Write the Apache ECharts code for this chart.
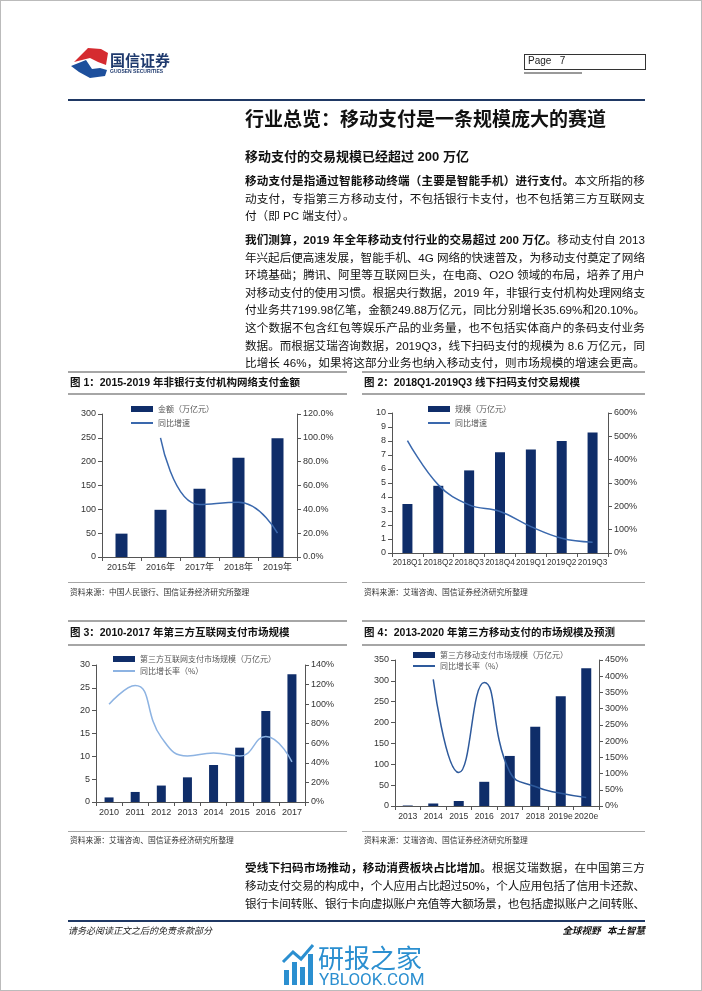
<!DOCTYPE html>
<html><head><meta charset="utf-8">
<script src="https://cdn.jsdelivr.net/npm/echarts@6/dist/echarts.min.js"></script>
<style>
html,body{margin:0;padding:0;background:#fff;}
#page{position:relative;width:702px;height:991px;overflow:hidden;background:#fff;}
#chart{position:absolute;left:0;top:0;width:702px;height:991px;}
.t{position:absolute;white-space:nowrap;color:#111;font-family:'Liberation Sans','Noto Sans CJK SC',sans-serif;line-height:1;z-index:2;}
.pl{position:absolute;left:245px;white-space:nowrap;font-size:11.6px;line-height:14px;color:#111;font-family:'Liberation Sans','Noto Sans CJK SC',sans-serif;z-index:2;}
.b{font-weight:bold;}
.hl{position:absolute;z-index:2;}
</style></head>
<body><div id="page">
<div id="chart"></div>
<div id="txt"></div>
</div>
<script>
// ---------- data ----------
const cat1 = ['2015年','2016年','2017年','2018年','2019年'];
const amt1 = [49, 99, 143, 208, 249];
const yoy1 = [null, 100, 44, 46, 20];

const cat2 = ['2018Q1','2018Q2','2018Q3','2018Q4','2019Q1','2019Q2','2019Q3'];
const amt2 = [3.5, 4.8, 5.9, 7.2, 7.4, 8.0, 8.6];
const yoy2 = [482, 292, 206, 178, 113, 63, 46];

const cat3 = ['2010','2011','2012','2013','2014','2015','2016','2017'];
const amt3 = [1.0, 2.2, 3.6, 5.4, 8.1, 11.9, 19.9, 28.0];
const yoy3 = [100, 119, 66, 47, 50, 47, 67, 41];

const cat4 = ['2013','2014','2015','2016','2017','2018','2019e','2020e'];
const amt4 = [1.2, 6, 12, 58, 120, 190, 263, 330];
const yoy4 = [null, 390, 103, 381, 105, 60, 39, 26];

// ---------- page text ----------
const headTitle = '行业总览：移动支付是一条规模庞大的赛道';
const subTitle = '移动支付的交易规模已经超过 200 万亿';
const para1 = [
  ['移动支付是指通过智能移动终端（主要是智能手机）进行支付。', '本文所指的移'],
  ['', '动支付，专指第三方移动支付，不包括银行卡支付，也不包括第三方互联网支'],
  ['', '付（即 PC 端支付）。']
];
const para2 = [
  ['我们测算，2019 年全年移动支付行业的交易超过 200 万亿。', '移动支付自 2013'],
  ['', '年兴起后便高速发展，智能手机、4G 网络的快速普及，为移动支付奠定了网络'],
  ['', '环境基础；腾讯、阿里等互联网巨头，在电商、O2O 领域的布局，培养了用户'],
  ['', '对移动支付的使用习惯。根据央行数据，2019 年，非银行支付机构处理网络支'],
  ['', '付业务共7199.98亿笔，金额249.88万亿元，同比分别增长35.69%和20.10%。'],
  ['', '这个数据不包含红包等娱乐产品的业务量，也不包括实体商户的条码支付业务'],
  ['', '数据。而根据艾瑞咨询数据，2019Q3，线下扫码支付的规模为 8.6 万亿元，同'],
  ['', '比增长 46%，如果将这部分业务也纳入移动支付，则市场规模的增速会更高。']
];
const para3 = [
  ['受线下扫码市场推动，移动消费板块占比增加。', '根据艾瑞数据，在中国第三方'],
  ['', '移动支付交易的构成中，个人应用占比超过50%，个人应用包括了信用卡还款、'],
  ['', '银行卡间转账、银行卡向虚拟账户充值等大额场景，也包括虚拟账户之间转账、']
];
const figTitles = ['图 1：2015-2019 年非银行支付机构网络支付金额','图 2：2018Q1-2019Q3 线下扫码支付交易规模','图 3：2010-2017 年第三方互联网支付市场规模','图 4：2013-2020 年第三方移动支付的市场规模及预测'];
const sources = ['资料来源：中国人民银行、国信证券经济研究所整理','资料来源：艾瑞咨询、国信证券经济研究所整理','资料来源：艾瑞咨询、国信证券经济研究所整理','资料来源：艾瑞咨询、国信证券经济研究所整理'];

const txt = document.getElementById('txt');
function add(html, cls, style){const d=document.createElement('div');d.className=cls;d.setAttribute('style',style);d.innerHTML=html;txt.appendChild(d);return d;}
function esc(s){return s.replace(/&/g,'&amp;').replace(/</g,'&lt;');}

// header
txt.insertAdjacentHTML('beforeend', '<svg class="hl" style="left:0;top:0" width="702" height="120"><polygon points="74,62 88,48 101,49 108,53 106,65 98,62 90,58" fill="#d52b30"/><polygon points="71,66 86,60 92,69 100,68 107,70 105,76 90,78 79,72" fill="#1d4f9c"/></svg>');
add('国信证券','t b','left:110px;top:52px;font-size:15px;color:#1f3a6e;font-family:"Noto Sans CJK SC";');
add('GUOSEN SECURITIES','t b','left:110px;top:69px;font-size:5px;color:#1f3a6e;');
add('Page&nbsp;&nbsp;&nbsp;7','t','left:528px;top:56px;font-size:10px;color:#222;');
add('','hl','left:524px;top:54px;width:120px;height:14px;border:1px solid #333;');
add('','hl','left:524px;top:72px;width:58px;height:2px;background:#999;');
add('','hl','left:68px;top:99px;width:577px;height:2px;background:#1f3864;');
// page frame
add('','hl','left:0;top:0;width:700px;height:989px;border:1px solid #bbb;');

add(esc(headTitle),'t b','left:245px;top:108px;font-size:19px;color:#111;font-family:"Noto Sans CJK SC";');
add(esc(subTitle),'t b','left:245px;top:150px;font-size:13px;color:#111;');

const justLines = [];
function para(lines, y0, step, lastFull){
  lines.forEach((l,i)=>{
    const d = add((l[0]?'<span class="b">'+esc(l[0])+'</span>':'')+esc(l[1]),'pl','top:'+(y0+i*step-7)+'px;');
    if(i<lines.length-1 || lastFull) justLines.push(d);
  });
}
para(para1, 181, 17.6, false);
para(para2, 240, 17.6, true);
para(para3, 868, 18, true);
justLines.forEach(d=>{
  const w = d.getBoundingClientRect().width;
  const n = [...d.textContent].length;
  d.style.letterSpacing = ((400 - w)/n) + 'px';
});

// figure frames
const figL = [[68,347],[362,645]];
const figY = [{top:372, title:383, under:394, src:582, srcTxt:592},{top:621, title:633, under:645, src:831, srcTxt:840}];
for(let r=0;r<2;r++){
  for(let c=0;c<2;c++){
    const [x0,x1]=figL[c]; const y=figY[r]; const k=r*2+c;
    add('','hl','left:'+x0+'px;top:'+(y.top-1)+'px;width:'+(x1-x0)+'px;height:2px;background:#a6a6a6;');
    add('','hl','left:'+x0+'px;top:'+(y.under-1)+'px;width:'+(x1-x0)+'px;height:2px;background:#a6a6a6;');
    add('','hl','left:'+x0+'px;top:'+(y.src)+'px;width:'+(x1-x0)+'px;height:1px;background:#a6a6a6;');
    add(esc(figTitles[k]),'t b','left:'+(x0+2)+'px;top:'+(y.title-6)+'px;font-size:10.5px;color:#111;');
    add(esc(sources[k]),'t','left:'+(x0+2)+'px;top:'+(y.srcTxt-4)+'px;font-size:7.8px;color:#333;font-family:"Noto Sans CJK SC";');
  }
}

// footer
add('','hl','left:68px;top:920px;width:577px;height:2px;background:#1f3864;');
add('请务必阅读正文之后的免责条款部分','t','left:68px;top:926px;font-size:9px;color:#222;font-family:"Noto Sans CJK SC";font-style:italic;');
add('全球视野&nbsp;&nbsp;&nbsp;本土智慧','t b','right:57px;top:926px;font-size:9.5px;color:#111;font-family:"Noto Sans CJK SC";font-style:italic;');
// watermark
txt.insertAdjacentHTML('beforeend','<svg class="hl" style="left:280px;top:940px" width="40" height="50"><rect x="4" y="30" width="5" height="15" fill="#2b8fd0"/><rect x="12" y="22" width="5" height="23" fill="#2b8fd0"/><rect x="20" y="27" width="5" height="18" fill="#2b8fd0"/><rect x="28" y="14" width="5" height="31" fill="#2b8fd0"/><polyline points="3,22 13,12 21,19 33,5" stroke="#2b8fd0" stroke-width="3" fill="none"/></svg>');
add('研报之家','t','left:318px;top:944px;font-size:26px;color:#2b8fd0;font-family:"Noto Sans CJK SC";');
add('YBLOOK.COM','t','left:319px;top:971px;font-size:17px;color:#2b8fd0;font-family:"Roboto";');

// ---------- charts ----------
const NAVY = '#0f2d69';
const FONT = 'Liberation Sans, Noto Sans CJK SC, sans-serif';
const axisCol = '#555';
function xAx(grid, data, fs){return {type:'category', gridIndex:grid, data:data, boundaryGap:true,
  axisLine:{lineStyle:{color:axisCol,width:1}}, axisTick:{show:true,alignWithLabel:false,length:4,lineStyle:{color:axisCol}},
  axisLabel:{interval:0,fontSize:fs||9,color:'#333',fontFamily:FONT,margin:6}};}
function yAx(grid, pos, max, interval, fmt){return {type:'value', gridIndex:grid, position:pos, min:0, max:max, interval:interval,
  axisLine:{show:true,lineStyle:{color:axisCol,width:1}}, axisTick:{show:true,length:4,lineStyle:{color:axisCol}},
  splitLine:{show:false}, axisLabel:{fontSize:9,color:'#333',fontFamily:FONT,margin:6,formatter:fmt}};}
function leg(left, top, gap, names, fs){return {left:left, top:top, orient:'vertical', itemWidth:22, itemHeight:6, itemGap:gap,
  textStyle:{fontSize:fs||8,color:'#555',fontFamily:'Noto Sans CJK SC'}, padding:0,
  data:[{name:names[0],icon:'rect'},{name:names[1],itemStyle:{opacity:0,borderWidth:0}}]};}

const n1=['金额（万亿元）','同比增速'], n2=['规模（万亿元）','同比增速\u200b'];
const n3=['第三方互联网支付市场规模（万亿元）','同比增长率（%）'], n4=['第三方移动支付市场规模（万亿元）','同比增长率（%）\u200b'];

function bar(name, x, y, data, w){return {name:name,type:'bar',xAxisIndex:x,yAxisIndex:y,data:data,barWidth:w,itemStyle:{color:NAVY},animation:false};}
function line(name, x, y, data, col, sm, lw){return {name:name,type:'line',xAxisIndex:x,yAxisIndex:y,data:data,smooth:sm,symbol:'none',
  connectNulls:false,lineStyle:{color:col,width:lw||1.5},itemStyle:{color:col},animation:false};}

const chart = echarts.init(document.getElementById('chart'), null, {renderer:'canvas'});
chart.setOption({
  animation:false,
  grid:[
    {left:102, top:414, width:195, height:143},
    {left:392, top:413, width:216, height:140},
    {left:96, top:665, width:209, height:137},
    {left:395, top:660, width:204, height:146}
  ],
  xAxis:[xAx(0,cat1), xAx(1,cat2,8.3), xAx(2,cat3), xAx(3,cat4,8.6)],
  yAxis:[
    yAx(0,'left',300,50), yAx(0,'right',120,20,v=>v.toFixed(1)+'%'),
    yAx(1,'left',10,1), yAx(1,'right',600,100,v=>v+'%'),
    yAx(2,'left',30,5), yAx(2,'right',140,20,v=>v+'%'),
    yAx(3,'left',350,50), yAx(3,'right',450,50,v=>v+'%')
  ],
  legend:[
    leg(130,405,6,n1), leg(427,405,6,n2), leg(112,655,4,n3), leg(412,651,3,n4)
  ],
  series:[
    bar(n1[0],0,0,amt1,12), line(n1[1],0,1,yoy1,'#3a68ad',0.5),
    bar(n2[0],1,2,amt2,10), line(n2[1],1,3,yoy2,'#3a68ad',0.4),
    bar(n3[0],2,4,amt3,9), line(n3[1],2,5,yoy3,'#8db3e2',0.5),
    bar(n4[0],3,6,amt4,10), line(n4[1],3,7,yoy4,'#2e5a9c',0.5)
  ]
});
</script>
</body></html>
